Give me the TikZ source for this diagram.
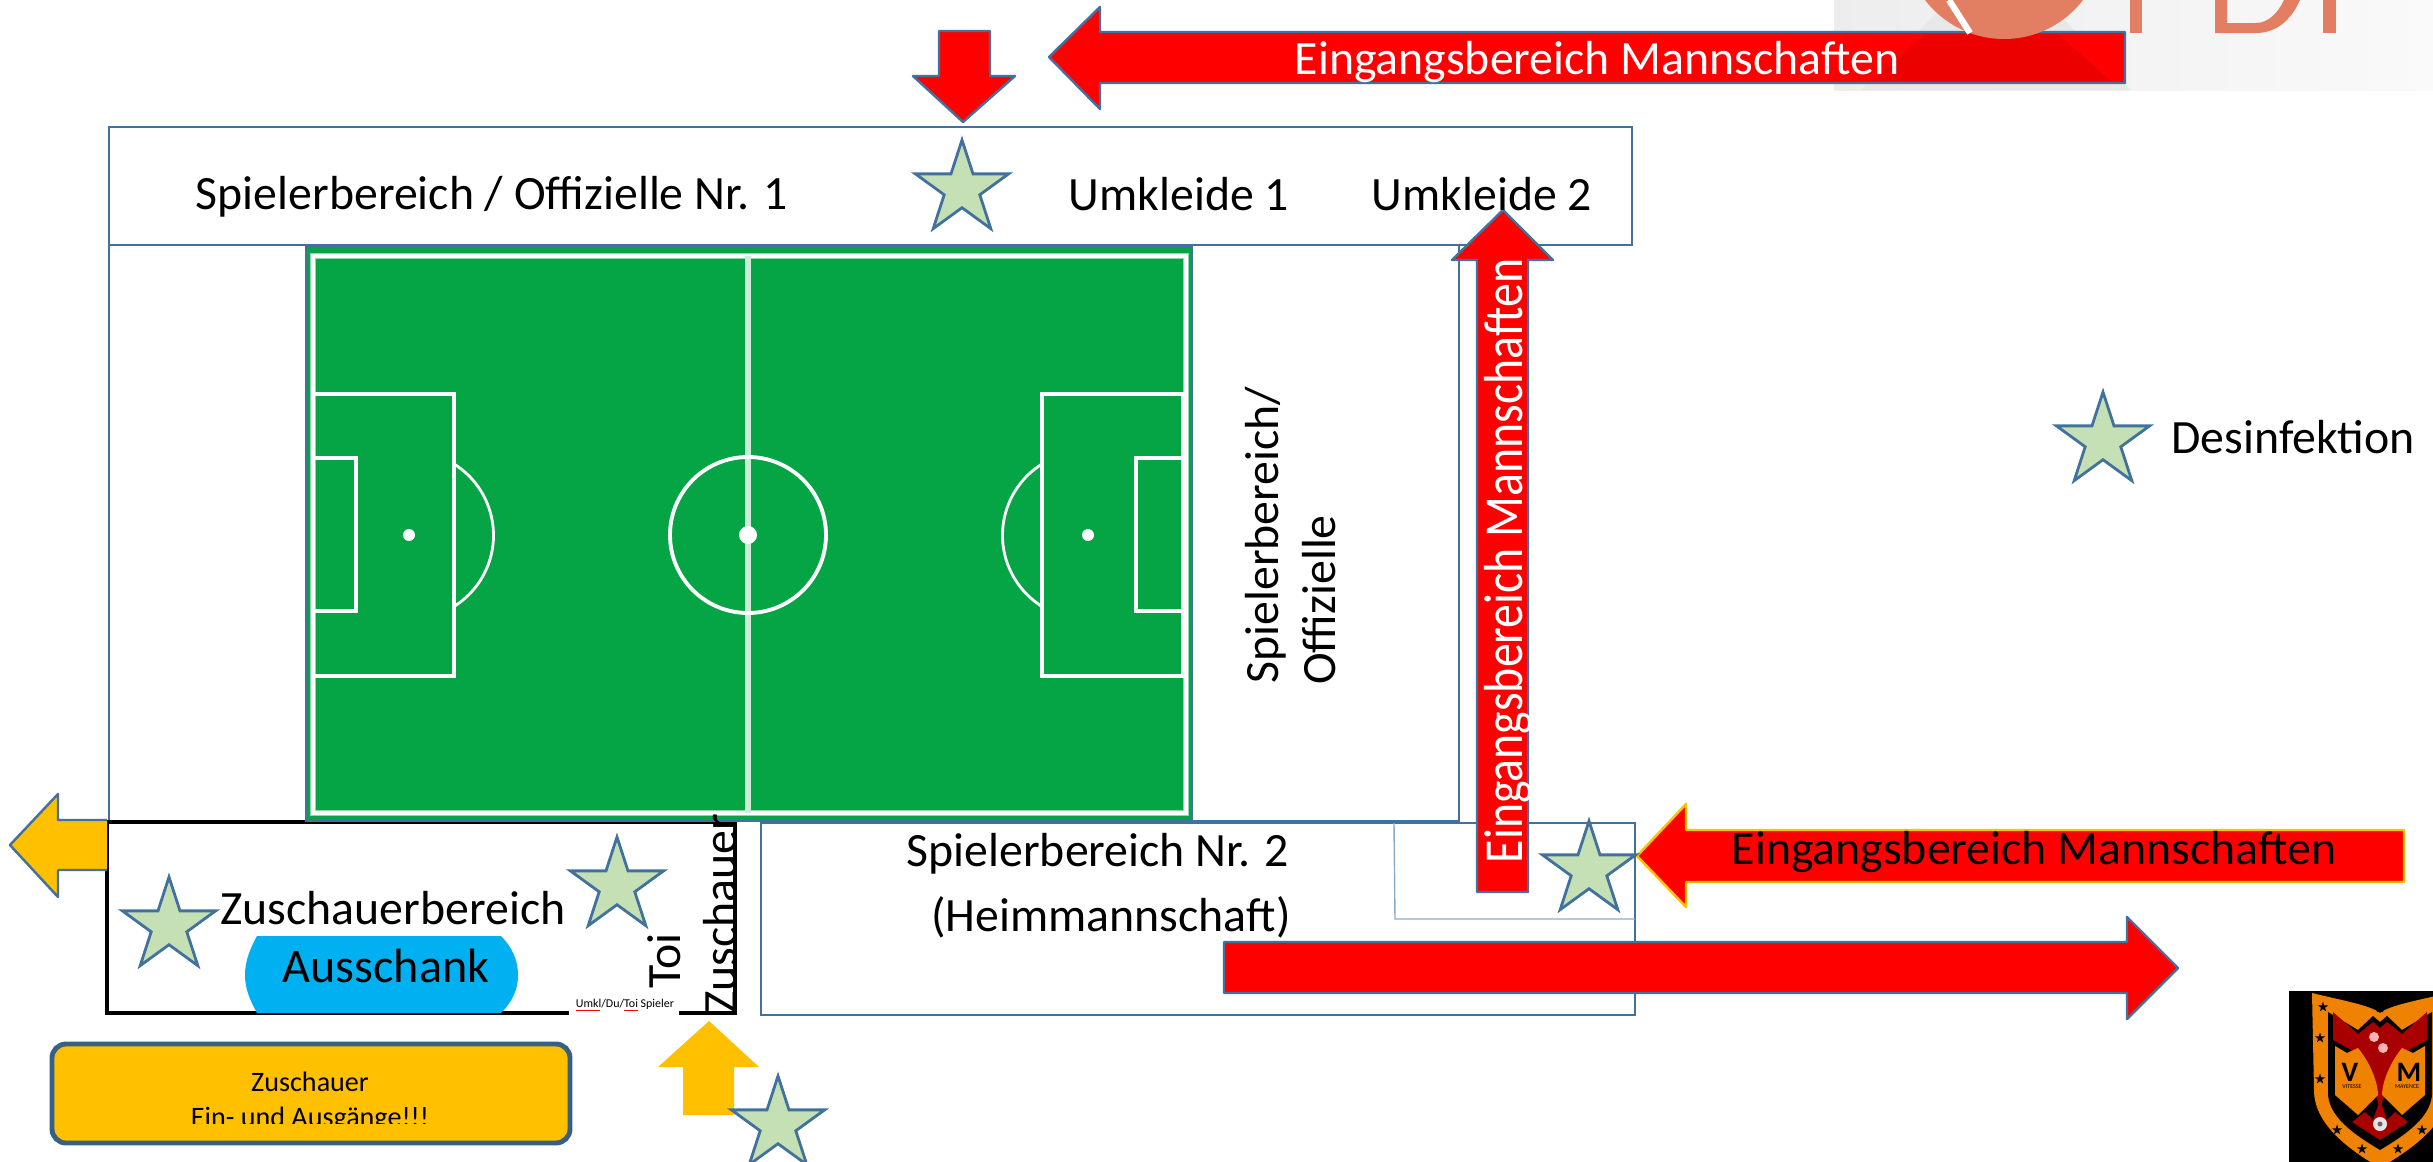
\documentclass[tikz,border=0pt]{standalone}
\usepackage{fontspec}
\setmainfont{Carlito}
\usetikzlibrary{shapes.geometric}
\definecolor{lineblue}{HTML}{41719C}
\definecolor{starfill}{HTML}{C5E0B4}
\definecolor{turf}{HTML}{05A444}
\definecolor{signyellow}{HTML}{FFC000}
\definecolor{barblue}{HTML}{00B0F0}
\definecolor{logored}{HTML}{E27F63}
\definecolor{crestorange}{HTML}{EF8200}
\definecolor{crestred}{HTML}{A80000}
\def\tallertext#1{\scalebox{1}[1.15]{#1}}
\tikzset{
	area/.style={draw=lineblue, line width=0.7pt},
	pitchline/.style={draw=white, line width=1.1pt},
	redarrow/.style={draw=lineblue, line width=0.7pt, fill=red, line join=round},
	hygiene/.style={star, star points=5, star point ratio=2.618, minimum size=98*0.1mm, inner sep=0pt, draw=lineblue, line width=0.8pt, fill=starfill},
	label/.style={font=\fontsize{13.6}{16}\selectfont, inner sep=0pt},
	creststar/.style={star, star points=5, star point ratio=2.618, minimum size=11*0.1mm, inner sep=0pt, fill=black},
}
\begin{document}
\begin{tikzpicture}[x=0.1mm, y=-0.1mm]
		%%%%% START %%%%%
		\useasboundingbox (0, 0) rectangle (2433, 1162);
		\clip (0, 0) rectangle (2433, 1162);
		
		% logo behind the top arrow
		\shade[left color=black!7, right color=black!2] (1834, 0) rectangle (2433, 90);
		\fill[black!9] (1861, 90) -- (1937, 13) -- (2058, 13) -- (2130, 90) -- cycle;
		
		% areas
		\draw[area] (109, 127) rectangle (1632, 245);
		\draw[area] (109, 245) rectangle (1459, 821);
		\draw[area] (761, 823) rectangle (1635, 1015);
		\draw[draw=lineblue!60, line width=0.4pt] (1394, 823) -- (1395, 919) -- (1635, 919);
		\draw[line width=1pt] (107, 822) rectangle (735, 1013);
		
		% pitch
		\draw[fill=turf, draw=lineblue, line width=0.7pt] (306, 246) rectangle (1192, 821);
		\draw[draw=white!55!turf, line width=1.8pt] (313, 256) rectangle (1186, 813);
		\draw[pitchline] (313, 256) rectangle (1186, 813);
		\draw[draw=turf!20!white, line width=1.5pt] (748, 256) -- (748, 813);
		\draw[pitchline] (748, 535) circle (78);
		\fill[white] (748, 535) circle (9);
		\draw[pitchline] (313, 394) rectangle (454, 676);
		\draw[pitchline] (313, 458) rectangle (356, 611);
		\fill[white] (409, 535) circle (6);
		\draw[pitchline, line width=0.8pt] (454, 464) arc (-58:58:84);
		\draw[pitchline] (1183, 394) rectangle (1042, 676);
		\draw[pitchline] (1183, 458) rectangle (1136, 611);
		\fill[white] (1088, 535) circle (6);
		\draw[pitchline, line width=0.8pt] (1042, 464) arc (238:122:84);
		
		% arrows
		\draw[redarrow] (939, 31) -- (990, 31) -- (990, 76) -- (1015, 76) -- (963, 122) -- (913, 76) -- (939, 76) -- cycle;
		\draw[redarrow] (2125, 32) -- (1100, 32) -- (1100, 7) -- (1049, 57) -- (1100, 109) -- (1100, 83) -- (2125, 83) -- cycle;
		\draw[redarrow] (1477, 892) -- (1477, 260) -- (1452, 260) -- (1503, 210) -- (1553, 260) -- (1528, 260) -- (1528, 892) -- cycle;
		\draw[redarrow] (1224, 942) -- (2127, 942) -- (2127, 917) -- (2178, 968) -- (2127, 1019) -- (2127, 993) -- (1224, 993) -- cycle;
		\draw[redarrow, draw=signyellow] (2404, 830) -- (1686, 830) -- (1686, 804) -- (1637, 856) -- (1686, 907) -- (1686, 882) -- (2404, 882) -- cycle;
		\fill[signyellow, draw=lineblue, line width=0.7pt, line join=round] (107, 820) -- (58, 820) -- (58, 794) -- (10, 845) -- (58, 897) -- (58, 870) -- (107, 870);
		\fill[signyellow] (683, 1115) -- (683, 1067) -- (658, 1067) -- (709, 1021) -- (759, 1067) -- (734, 1067) -- (734, 1115) -- cycle;
		
		% logo over the top arrow
		\fill[red!93!black] (1925, 34) -- (2058, 34) -- (2111, 81) -- (1873, 81) -- cycle;
		\fill[logored] (2004, -60.5) circle (99.5);
		\draw[white, line width=1.8pt] (1949, 0) -- (1970, 33);
		\fill[logored] (2130, 0) rectangle (2142, 33);
		\fill[logored] (2323, 0) rectangle (2336, 33);
		\fill[logored] (2215, 0) -- (2215, 33) -- (2256, 33) .. controls (2278, 33) and (2292, 18) .. (2300, 0) -- (2284, 0) .. controls (2278, 13) and (2268, 23) .. (2256, 23) -- (2227, 23) -- (2227, 0) -- cycle;
		
		% bar
		\fill[barblue] (257, 936) -- (501, 936) .. controls (512, 947) and (518, 960) .. (518, 975) .. controls (518, 990) and (512, 1002) .. (501, 1013) -- (257, 1013) .. controls (251, 1002) and (245, 990) .. (245, 975) .. controls (245, 960) and (251, 947) .. (257, 936) -- cycle;
		\node[label] (bar) at (386, 966) {\fontsize{13.7}{16}\selectfont Ausschank};
		
		% hygiene stations
		\node[hygiene] (hyg1) at (962, 189) {};
		\node[hygiene] (hyg2) at (2103, 441) {};
		\node[hygiene] (hyg3) at (169, 926) {};
		\node[hygiene] (hyg4) at (617, 886) {};
		\node[hygiene] (hyg5) at (778, 1125) {};
		\node[hygiene] (hyg6) at (1589, 870) {};
		
		% texts
		\node[label] (players1) at (492, 197) {Spielerbereich / Offizielle Nr. 1};
		\node[label] (room1) at (1179, 194) {Umkleide 1};
		\node[label] (room2) at (1482, 194) {Umkleide 2};
		\node[label] (disinfect) at (2293, 437) {Desinfektion};
		\node[label] (players2a) at (1098, 854) {Spielerbereich Nr. 2};
		\node[label] (players2b) at (1111, 917) {(Heimmannschaft)};
		\node[label, rotate=90, anchor=base] (officials1) at (1278, 535) {Spielerbereich/};
		\node[label, rotate=90, anchor=base] (officials2) at (1335, 600) {Offizielle};
		\node[label] (crowd) at (393, 908) {Zuschauerbereich};
		\node[label, text=white] (entry1) at (1597, 62) {Eingangsbereich Mannschaften};
		\node[label, text=white, rotate=90, anchor=base] (entry2) at (1522, 561) {\tallertext{Eingangsbereich Mannschaften}};
		\node[label] (entry3) at (2034, 852) {Eingangsbereich Mannschaften};
		\node[label, rotate=90] (toi) at (664, 961) {Toi};
		\node[label, rotate=90] (crowdtoi) at (720, 914) {Zuschauer};
		
		% small label breaks the black frame
		\fill[white] (569, 990) rectangle (679, 1016);
		\node[inner sep=0pt, font=\fontsize{3.4}{4}\selectfont] (small) at (625, 1004) {Umkl/Du/Toi Spieler};
		\draw[red, line width=0.2pt] (576, 1010) -- (600, 1010) (624, 1010) -- (638, 1010);
		
		% note box
		\draw[fill=signyellow, draw=lineblue!85!black, line width=1.4pt, rounded corners=14*0.1mm] (52, 1044) rectangle (570, 1143);
		\node[inner sep=0pt, font=\fontsize{8}{10}\selectfont] (note1) at (310, 1082) {Zuschauer};
		\node[inner sep=0pt, font=\fontsize{8}{10}\selectfont] (note2) at (310, 1119) {Ein- und Ausgänge!!!};
		\fill[signyellow] (150, 1124) rectangle (480, 1136);
		
		% crest
		\fill[black] (2289, 991) rectangle (2433, 1162);
		\fill[crestorange] (2312, 993) .. controls (2340, 1000) and (2370, 1005) .. (2380, 1013) .. controls (2390, 1005) and (2420, 1000) .. (2448, 993) -- (2448, 1090) .. controls (2448, 1125) and (2410, 1150) .. (2380, 1168) .. controls (2350, 1150) and (2314, 1125) .. (2314, 1090) -- cycle;
		\fill[black] (2328, 1012) -- (2358, 1030) -- (2373, 1016) -- (2380, 1022) -- (2387, 1016) -- (2402, 1030) -- (2432, 1012) -- (2432, 1095) .. controls (2430, 1118) and (2405, 1135) .. (2380, 1150) .. controls (2355, 1135) and (2330, 1118) .. (2328, 1095) -- cycle;
		\fill[crestred] (2333, 1012) -- (2358, 1034) -- (2373, 1022) -- (2380, 1028) -- (2387, 1022) -- (2402, 1034) -- (2427, 1012) -- (2427, 1040) -- (2405, 1052) -- (2388, 1080) -- (2380, 1110) -- (2372, 1080) -- (2355, 1052) -- (2333, 1040) -- cycle;
		\fill[crestorange] (2335, 1046) -- (2347, 1053) -- (2358, 1048) .. controls (2372, 1065) and (2378, 1085) .. (2378, 1095) -- (2358, 1115) -- (2350, 1108) -- (2335, 1095) -- cycle;
		\fill[crestorange] (2425, 1046) -- (2413, 1053) -- (2402, 1048) .. controls (2388, 1065) and (2382, 1085) .. (2382, 1095) -- (2402, 1115) -- (2410, 1108) -- (2425, 1095) -- cycle;
		\fill[crestred] (2352, 1122) -- (2365, 1112) -- (2373, 1120) -- (2380, 1100) -- (2387, 1120) -- (2395, 1112) -- (2408, 1122) -- (2380, 1140) -- cycle;
		\fill[black!10] (2380, 1124) circle (7);
		\fill[black!60] (2380, 1124) circle (2.5);
		\fill[red!30!white] (2374, 1037) circle (5) (2383, 1048) circle (5);
		\foreach \px/\py [count=\i] in {2323/1007, 2320/1038, 2320/1079, 2337/1130, 2362/1149, 2398/1149, 2422/1130, 2380/1008}
			\node[creststar] (creststar\i) at (\px, \py) {};
		\node[inner sep=0pt, font=\fontsize{8}{9}\bfseries\selectfont] (letterv) at (2350, 1072) {V};
		\node[inner sep=0pt, font=\fontsize{8}{9}\bfseries\selectfont] (letterm) at (2409, 1072) {M};
		\node[inner sep=0pt, font=\fontsize{1.7}{2}\selectfont] (namev) at (2352, 1087) {VITESSE};
		\node[inner sep=0pt, font=\fontsize{1.7}{2}\selectfont] (namem) at (2407, 1087) {MAYENCE};
		
		%%%%% END %%%%%
	\end{tikzpicture}
\end{document}
